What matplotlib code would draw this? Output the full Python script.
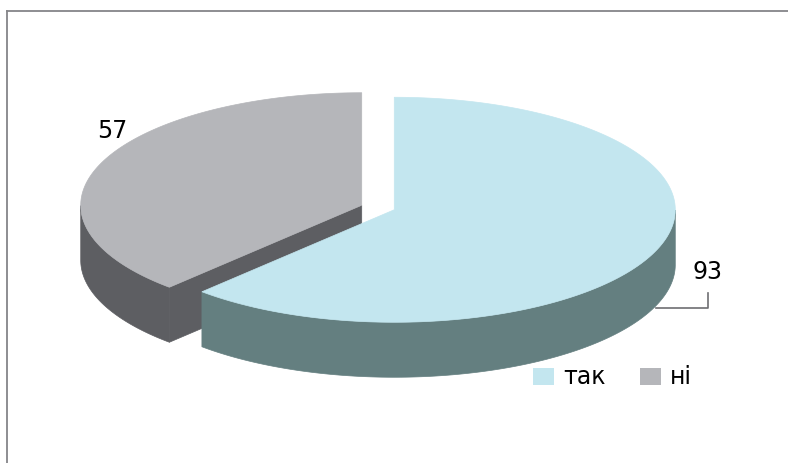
import numpy as np
import matplotlib
matplotlib.use("Agg")
import matplotlib.pyplot as plt
from matplotlib.patches import Polygon, Rectangle
from matplotlib.lines import Line2D

# data
labels = ["так", "ні"]
values = [93, 57]
top_colors = ["#C3E6EF", "#B5B6BA"]
side_colors = ["#647F80", "#5D5E62"]

W, H = 788, 463
fig = plt.figure(figsize=(W / 100, H / 100), dpi=100)
ax = fig.add_axes([0, 0, 1, 1])
ax.set_xlim(0, W)
ax.set_ylim(H, 0)
ax.axis("off")

# frame (only top and left visible)
ax.add_line(Line2D([7.5, W], [10.5, 10.5], color="#858589", lw=1.3))
ax.add_line(Line2D([7.5, 7.5], [10.5, H], color="#858589", lw=1.3))

# geometry of 3D pie (pixel coordinates)
CX, CY = 378, 207.5
A, B = 281, 112.5
DEPTH = 55
EXPLODE = 17.5

total = sum(values)
start = 90.0
slices = []
for v in values:
    sweep = 360.0 * v / total
    t2 = start
    t1 = start - sweep
    slices.append((t1, t2))
    start = t1


def pt(cx, cy, deg):
    r = np.radians(deg)
    return cx + A * np.cos(r), cy - B * np.sin(r)


def draw_slice(i):
    t1, t2 = slices[i]
    mid = np.radians((t1 + t2) / 2)
    cx = CX + EXPLODE * np.cos(mid)
    cy = CY - EXPLODE * np.sin(mid) * 0.35
    # normalize angles to be continuous
    # radial faces
    for ang, sgn in ((t1, -1), (t2, 1)):
        nrm = np.radians(ang + 90 * sgn)
        if -np.sin(nrm) * 1 > 0.05 or np.sin(nrm) < -0.05:
            pass
        if np.sin(nrm) < -0.05:
            ex, ey = pt(cx, cy, ang)
            poly = [(cx, cy), (ex, ey), (ex, ey + DEPTH), (cx, cy + DEPTH)]
            ax.add_patch(Polygon(poly, closed=True, fc=side_colors[i], ec=side_colors[i], lw=0.5))
    # outer wall: visible where sin(theta) < 0 (front half)
    th = np.linspace(t1, t2, 600)
    vis = np.sin(np.radians(th)) <= 0
    if vis.any():
        tv = th[vis]
        top = [pt(cx, cy, t) for t in tv]
        bot = [(x, y + DEPTH) for x, y in top[::-1]]
        ax.add_patch(Polygon(top + bot, closed=True, fc=side_colors[i], ec=side_colors[i], lw=0.5))
    # top face
    pts = [(cx, cy)] + [pt(cx, cy, t) for t in th]
    ax.add_patch(Polygon(pts, closed=True, fc=top_colors[i], ec=top_colors[i], lw=0.5))
    return cx, cy


draw_slice(1)
draw_slice(0)

# value labels
ax.text(708, 272, str(values[0]), fontsize=17, ha="center", va="center", color="#000000")
ax.add_line(Line2D([656, 708, 708], [307.5, 307.5, 293], color="#6E6E72", lw=1.2))
ax.text(112, 131, str(values[1]), fontsize=17, ha="center", va="center", color="#000000")

# legend
leg_x = [533, 640]
for i, lab in enumerate(labels):
    ax.add_patch(Rectangle((leg_x[i], 368), 21, 17, fc=top_colors[i], ec="none"))
    ax.text(leg_x[i] + 30, 377, lab, fontsize=17, ha="left", va="center", color="#000000")

fig.savefig("out.png", dpi=100)
